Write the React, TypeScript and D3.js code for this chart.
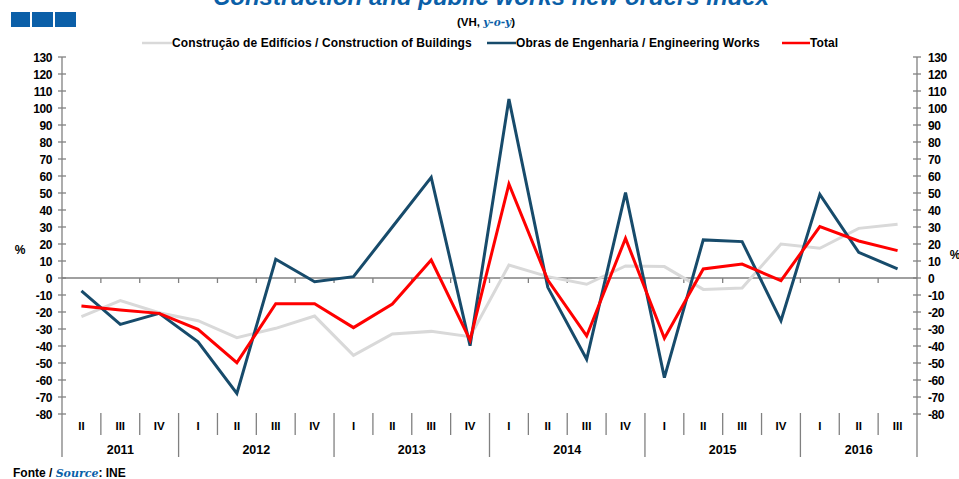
import React from 'react'
import * as d3 from 'd3'

// quarters 2011 Q2 .. 2016 Q3
const quarters = ['II', 'III', 'IV', 'I', 'II', 'III', 'IV', 'I', 'II', 'III', 'IV', 'I', 'II', 'III', 'IV', 'I', 'II', 'III', 'IV', 'I', 'II', 'III']
const years = [
  {label: '2011', count: 3},
  {label: '2012', count: 4},
  {label: '2013', count: 4},
  {label: '2014', count: 4},
  {label: '2015', count: 4},
  {label: '2016', count: 3},
]

const buildings = [-22.7, -13.3, -20.4, -25.1, -35.1, -29.6, -22.4, -45.5, -32.9, -31.4, -34.5, 7.6, 0.8, -3.7, 7.1, 6.7, -6.7, -5.9, 20, 17.5, 29.2, 31.6]
const engineering = [-7.6, -27.3, -20.8, -37.5, -67.9, 11, -2.2, 0.8, 30, 59.2, -39.8, 105.3, -5.5, -47.8, 50.2, -58.6, 22.4, 21.4, -25.1, 49.2, 15.1, 5.3]
const total = [-16.5, -18.8, -20.8, -30.2, -49.8, -15.1, -15.1, -29.2, -15.3, 10.6, -36.5, 55.3, -1.2, -34.1, 23.3, -35.5, 5.3, 8.2, -1.6, 30.2, 21.8, 16.1]

const yTicks = d3.range(-80, 131, 10)

const series = [
  {name: 'Construção de Edifícios / Construction of Buildings', values: buildings, color: '#d9d9d9'},
  {name: 'Obras de Engenharia / Engineering Works', values: engineering, color: '#174b6b'},
  {name: 'Total', values: total, color: '#ff0000'},
]

const font = '"Liberation Sans", Arial, sans-serif'
const blue = '#0b5fa8'

export default function App() {
  const width = 959
  const height = 479
  const left = 62
  const right = 917

  const x = d3.scaleBand<number>().domain(d3.range(quarters.length)).range([left, right])
  const y = d3.scaleLinear().domain([-80, 130]).range([414, 57])
  const cx = (i: number) => x(i)! + x.bandwidth() / 2

  const line = d3.line<number>().x((d, i) => cx(i)).y(d => y(d))

  let yearStart = 0
  const yearBlocks = years.map(yr => {
    const b = {label: yr.label, start: yearStart, end: yearStart + yr.count}
    yearStart += yr.count
    return b
  })
  const yearBounds = new Set(yearBlocks.map(b => b.start))

  const legendItems = [
    {x0: 142, tx: 172},
    {x0: 487, tx: 516},
    {x0: 782, tx: 810},
  ]

  return (
    <svg width={width} height={height} style={{position: 'absolute', left: 0, top: 0}} fontFamily={font}>
      <rect width={width} height={height} fill="#fff" />

      {/* logo squares */}
      <rect x={11} y={12} width={19} height={15} fill={blue} />
      <rect x={32} y={12} width={21} height={15} fill={blue} />
      <rect x={55} y={12} width={21} height={15} fill={blue} />

      <text x={491} y={5} textAnchor="middle" fontSize={24} fontWeight="bold" fontStyle="italic" fill={blue}>
        Construction and public works new orders index
      </text>
      <text x={486} y={26} textAnchor="middle" fontSize={11.5} fontWeight="bold" fill="#000">
        (VH, <tspan fill={blue} fontStyle="italic" fontFamily='"DejaVu Serif", serif' fontSize={10.5}>y-o-y</tspan>)
      </text>

      {/* legend */}
      {series.map((s, i) => (
        <g key={s.name}>
          <line x1={legendItems[i].x0} x2={legendItems[i].tx} y1={43} y2={43} stroke={s.color} strokeWidth={2.5} />
          <text x={legendItems[i].tx} y={47} fontSize={12} fontWeight="bold" letterSpacing={0.1}>{s.name}</text>
        </g>
      ))}

      {/* left axis */}
      <line x1={left} x2={left} y1={57} y2={457} stroke="#808080" strokeWidth={1.3} />
      {yTicks.map(t => (
        <g key={'l' + t}>
          <line x1={left - 4} x2={left + 4} y1={y(t)} y2={y(t)} stroke="#808080" strokeWidth={1.3} />
          <text x={52} y={y(t) + 4.5} textAnchor="end" fontSize={12} fontWeight="bold" letterSpacing={-0.4}>{t}</text>
        </g>
      ))}
      {/* right axis */}
      <line x1={right} x2={right} y1={57} y2={457} stroke="#808080" strokeWidth={1.3} />
      {yTicks.map(t => (
        <g key={'r' + t}>
          <line x1={right - 4} x2={right + 4} y1={y(t)} y2={y(t)} stroke="#808080" strokeWidth={1.3} />
          <text x={928} y={y(t) + 4.5} textAnchor="start" fontSize={12} fontWeight="bold" letterSpacing={-0.4}>{t}</text>
        </g>
      ))}
      <text x={20} y={254} textAnchor="middle" fontSize={12} fontWeight="bold">%</text>
      <text x={955} y={259} textAnchor="middle" fontSize={12} fontWeight="bold">%</text>

      {/* zero line with category ticks */}
      <line x1={left} x2={right} y1={y(0)} y2={y(0)} stroke="#808080" strokeWidth={1.3} />
      {quarters.map((q, i) => i > 0 ? (
        <line key={'zt' + i} x1={x(i)} x2={x(i)} y1={y(0)} y2={y(0) + 5} stroke="#808080" strokeWidth={1.3} />
      ) : null)}

      {/* category labels */}
      {quarters.map((q, i) => (
        <text key={'q' + i} x={cx(i)} y={430} textAnchor="middle" fontSize={11.5} fontWeight="bold">{q}</text>
      ))}
      {quarters.map((q, i) => i > 0 ? (
        <line key={'qs' + i} x1={x(i)} x2={x(i)} y1={413} y2={yearBounds.has(i) ? 457 : 435} stroke="#808080" strokeWidth={1.3} />
      ) : null)}
      {yearBlocks.map(b => (
        <text key={b.label} x={(x(b.start)! + x(b.end - 1)! + x.bandwidth()) / 2} y={454} textAnchor="middle" fontSize={12.5} fontWeight="bold">{b.label}</text>
      ))}

      {/* series */}
      {series.map(s => (
        <path key={s.name} d={line(s.values)!} fill="none" stroke={s.color} strokeWidth={3} strokeLinejoin="miter" />
      ))}

      <text x={13} y={477} fontSize={12} fontWeight="bold">
        Fonte / <tspan fill={blue} fontStyle="italic" fontFamily='"DejaVu Serif", serif' fontSize={11}>Source</tspan>: INE
      </text>
    </svg>
  )
}
